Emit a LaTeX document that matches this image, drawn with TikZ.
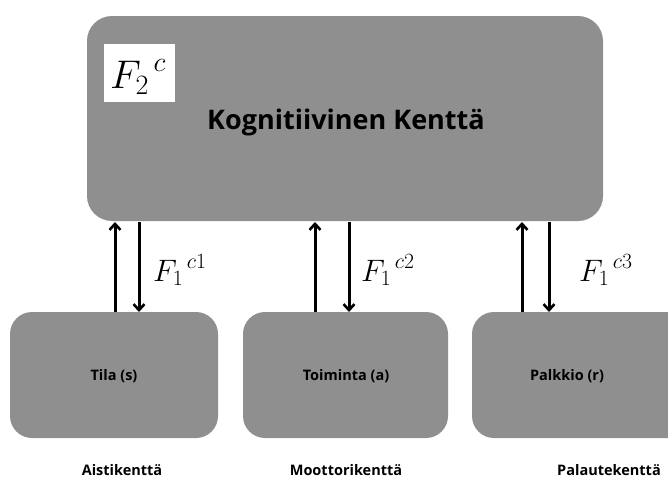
\documentclass[tikz,border=0pt]{standalone}
\usepackage{fix-cm}
\usepackage{fontspec}
\setmainfont{Open Sans}
\usetikzlibrary{arrows.meta}
\definecolor{boxgray}{HTML}{8F8F8F}
\begin{document}
\begin{tikzpicture}[x=1pt,y=-1pt,
  field/.style={fill=boxgray,draw=none,rounded corners=25pt},
  smallfield/.style={fill=boxgray,draw=none,rounded corners=22pt},
  flow/.style={line width=3pt,-{Straight Barb[length=6pt,width=11pt,line width=2.6pt]}},
  lbl/.style={font=\bfseries\fontsize{14.5}{17}\selectfont},
  mlbl/.style={font=\fontsize{31}{36}\selectfont,anchor=base west,inner sep=0pt}]
\useasboundingbox (0,0) rectangle (668,479);
% main box
\path[field] (87,16) rectangle (603,221);
\node[fill=white,minimum width=71pt,minimum height=58pt,inner sep=0pt] (f2) at (139.5,73) {};
\node[font=\fontsize{40}{44}\selectfont,anchor=base west,inner sep=0pt] (f2t) at (110,88) {${F_2}^{\,c}$};
\node[font=\bfseries\fontsize{27}{32}\selectfont] (kog) at (346,122) {Kognitiivinen Kenttä};
% bottom boxes
\path[smallfield] (10,312) rectangle (218,438);
\path[smallfield] (243,312) rectangle (448,438);
\path[smallfield] (472,312) rectangle (690,438);
\node[lbl] (s) at (114,376) {Tila (s)};
\node[lbl] (a) at (346,376) {Toiminta (a)};
\node[lbl] (r) at (567,376) {Palkkio (r)};
% arrows
\coordinate (u1a) at (115,312); \coordinate (u1b) at (115,222);
\coordinate (d1a) at (139,222); \coordinate (d1b) at (139,312);
\coordinate (u2a) at (315,312); \coordinate (u2b) at (315,222);
\coordinate (d2a) at (349,222); \coordinate (d2b) at (349,312);
\coordinate (u3a) at (522,312); \coordinate (u3b) at (522,222);
\coordinate (d3a) at (549,222); \coordinate (d3b) at (549,312);
\draw[flow] (u1a) -- (u1b);
\draw[flow] (d1a) -- (d1b);
\draw[flow] (u2a) -- (u2b);
\draw[flow] (d2a) -- (d2b);
\draw[flow] (u3a) -- (u3b);
\draw[flow] (d3a) -- (d3b);
\node[mlbl] (m1) at (153,281) {${F_1}^{\,c1}$};
\node[mlbl] (m2) at (361,281) {${F_1}^{\,c2}$};
\node[mlbl] (m3) at (579,281) {${F_1}^{\,c3}$};
% field names
\node[lbl] (n1) at (122,470) {Aistikenttä};
\node[lbl] (n2) at (346,470) {Moottorikenttä};
\node[lbl] (n3) at (609,470) {Palautekenttä};
\end{tikzpicture}
\end{document}
